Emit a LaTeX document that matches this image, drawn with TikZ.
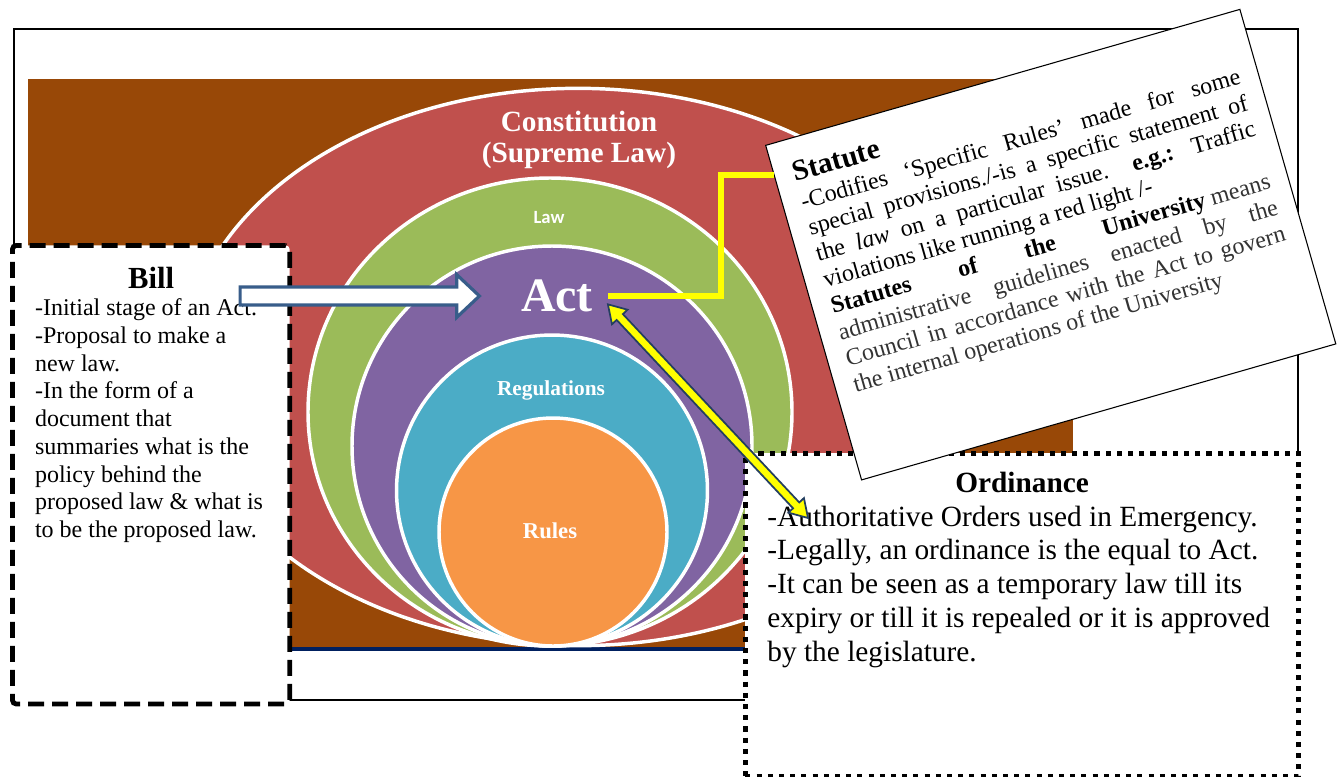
\documentclass[tikz,border=0pt]{standalone}
\usepackage{fontspec}
\setmainfont{Liberation Serif}
\newfontfamily\lawfont{Carlito}
\usetikzlibrary{positioning, calc}

\definecolor{BgBrown}{RGB}{152,72,7}
\definecolor{ConstRed}{RGB}{192,80,77}
\definecolor{LawGreen}{RGB}{155,187,89}
\definecolor{ActPurple}{RGB}{128,100,162}
\definecolor{RegBlue}{RGB}{75,172,198}
\definecolor{RuleOrange}{RGB}{247,150,70}
\definecolor{BaseNavy}{RGB}{0,32,96}
\definecolor{ArrowBlue}{RGB}{56,93,138}
\definecolor{ArrowDark}{RGB}{36,63,96}
\definecolor{LinkYellow}{RGB}{255,255,0}

\begin{document}
\begin{tikzpicture}[x=0.75pt, y=-0.75pt,
	ring/.style={draw=white, line width=2.6pt},
	ringlabel/.style={text=white, font=\bfseries},
	notebox/.style={draw=black, fill=white, anchor=north west, inner ysep=0pt},
	billbox/.style={notebox, line width=3.6pt, dash pattern=on 12pt off 6pt, rounded corners=3pt, inner xsep=17pt},
	ordbox/.style={notebox, line width=3.6pt, dash pattern=on 3.8pt off 4.6pt, inner xsep=16.5pt},
	statutebox/.style={notebox, line width=0.8pt, inner xsep=14pt},
	blockwhite/.style={draw=ArrowBlue, fill=white, line width=2.4pt, line join=miter},
	blockyellow/.style={draw=ArrowDark, fill=LinkYellow, line width=1.3pt, line join=miter}]
	\useasboundingbox (0,0) rectangle (1342,776);
	% frame and backdrop
	\draw[line width=1.1pt] (14,29) rectangle (1298,700);
	\fill[BgBrown] (28,79) rectangle (1073,647);
	\draw[BaseNavy, line width=3.6pt] (28,649) -- (1073,649);
	% nested rings
	\draw[ring, fill=ConstRed] (578,367) ellipse [x radius=296pt, y radius=209pt];
	\draw[ring, fill=LawGreen] (550,412) ellipse [x radius=181.5pt, y radius=175.5pt];
	\draw[ring, fill=ActPurple] (552,446) circle [radius=150pt];
	\draw[ring, fill=RegBlue] (552,490.5) circle [radius=116.6pt];
	\draw[ring, fill=RuleOrange] (553,532) circle [radius=85.5pt];
	\node[ringlabel, font=\bfseries\fontsize{22}{23.3}\selectfont, align=center] (constitution) at (579,140) {Constitution\\(Supreme Law)};
	\node[ringlabel, font=\lawfont\bfseries\fontsize{14}{16}\selectfont] (law) at (549,218) {Law};
	\node[ringlabel, font=\bfseries\fontsize{36}{40}\selectfont, inner xsep=11pt, inner ysep=0pt] (act) at (557,296) {Act};
	\node[ringlabel, font=\bfseries\fontsize{16}{18}\selectfont] (regulations) at (551,390) {Regulations};
	\node[ringlabel, font=\bfseries\fontsize{17}{19}\selectfont] (rules) at (550,531) {Rules};
	% text boxes
	\node[billbox] (bill) at (10,243) {\parbox[c][344pt][t]{174pt}{%
		\vspace*{16pt}{\centering\fontsize{23}{26}\selectfont\bfseries Bill\par}
		\raggedright\fontsize{18}{20.8}\selectfont
		-Initial stage of an Act.\\
		-Proposal to make a\\
		new law.\\
		-In the form of a\\
		document that\\
		summaries what is the\\
		policy behind the\\
		proposed law \& what is\\
		to be the proposed law.}};
	\node[ordbox] (ord) at (743,451) {\parbox[c][242pt][t]{382pt}{%
		\vspace*{14pt}{\centering\fontsize{22}{25}\selectfont\bfseries Ordinance\par}
		\raggedright\fontsize{22}{25.3}\selectfont
		-Authoritative Orders used in Emergency.\\
		-Legally, an ordinance is the equal to Act.\\
		-It can be seen as a temporary law till its\\
		expiry or till it is repealed or it is approved\\
		by the legislature.}};
	\node[statutebox, rotate=16] (statute) at (765,145) {\parbox[c][261pt][t]{342pt}{%
		\vspace*{18pt}{\fontsize{22}{25}\selectfont\bfseries Statute\par}
		\vspace{1pt}\fontsize{18}{20.4}\selectfont
		-Codifies ‘Specific Rules’ made for some\linebreak
		special provisions./-is a specific statement of\linebreak
		the \textit{law} on a particular issue. \textbf{e.g.:} Traffic\linebreak
		violations like running a red light /-\\
		\textbf{Statutes}\hfill\textbf{of}\hfill\textbf{the}\hfill\textbf{University} {\color{black!80}means\linebreak
		administrative guidelines enacted by the\linebreak
		Council in accordance with the Act to govern\linebreak
		the internal operations of the University}}};
	% connectors
	\draw[LinkYellow, line width=4.5pt] (act.east) -- ++(113,0) |- ($(statute.north west)!0.09!(statute.south west)$);
	\coordinate (billtail) at ($(bill.east |- act.west)+(-39pt,0)$);
	\coordinate (acttip) at ([xshift=-20pt]act.west);
	\draw[blockwhite] (acttip) -- ($(acttip)!17pt!(billtail)!16pt!90:(billtail)$)
		-- ($(acttip)!17pt!(billtail)!6.8pt!90:(billtail)$) -- ($(billtail)!6.8pt!-90:(acttip)$)
		-- ($(billtail)!6.8pt!90:(acttip)$) -- ($(acttip)!17pt!(billtail)!6.8pt!-90:(billtail)$)
		-- ($(acttip)!17pt!(billtail)!16pt!-90:(billtail)$) -- cycle;
	\coordinate (actend) at ([yshift=6pt]act.south east);
	\coordinate (ordend) at ([shift={(48.75pt,-50.25pt)}]ord.north west);
	\draw[blockyellow] (actend) -- ($(actend)!13pt!(ordend)!8pt!90:(ordend)$)
		-- ($(actend)!13pt!(ordend)!3.2pt!90:(ordend)$) -- ($(ordend)!13pt!(actend)!3.2pt!-90:(actend)$)
		-- ($(ordend)!13pt!(actend)!8pt!-90:(actend)$) -- (ordend)
		-- ($(ordend)!13pt!(actend)!8pt!90:(actend)$) -- ($(ordend)!13pt!(actend)!3.2pt!90:(actend)$)
		-- ($(actend)!13pt!(ordend)!3.2pt!-90:(ordend)$) -- ($(actend)!13pt!(ordend)!8pt!-90:(ordend)$) -- cycle;
\end{tikzpicture}
\end{document}
